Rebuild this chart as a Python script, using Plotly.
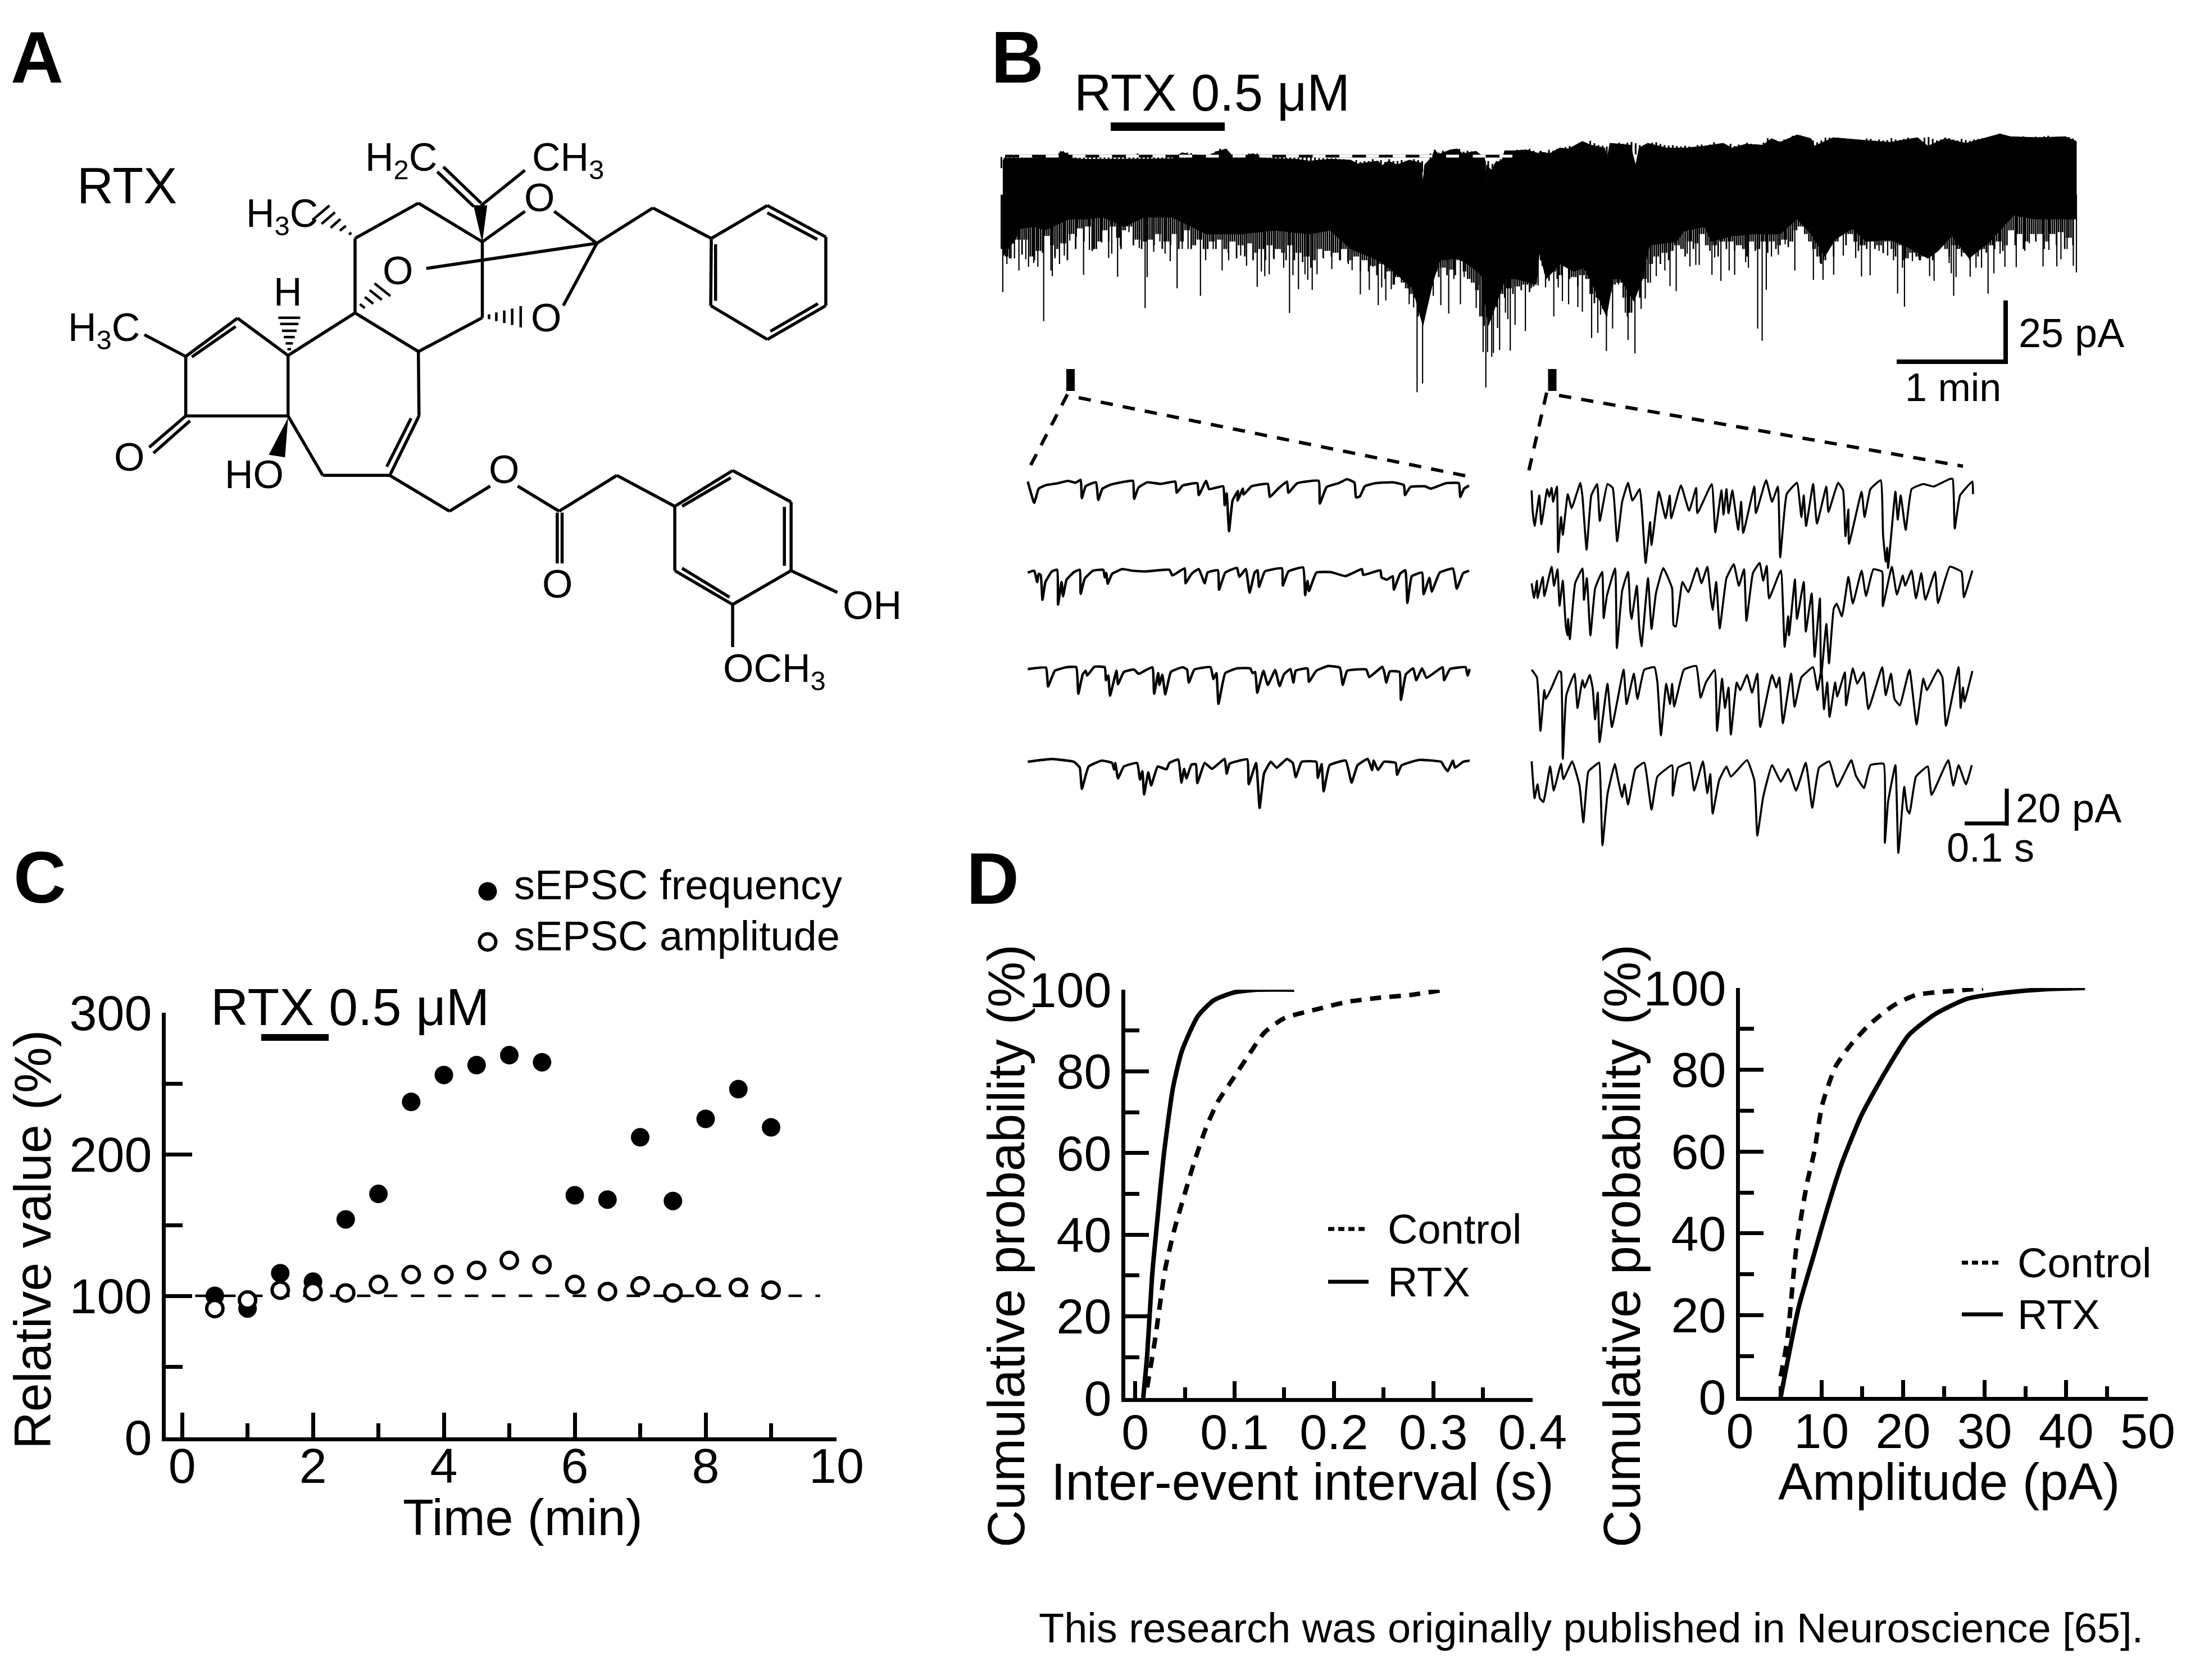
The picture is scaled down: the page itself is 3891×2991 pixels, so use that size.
import plotly.graph_objects as go

W, H = 3891, 2991
FONT = "Liberation Sans"

# ---------- panel C values ----------
time_min = [0.5, 1, 1.5, 2, 2.5, 3, 3.5, 4, 4.5, 5, 5.5, 6, 6.5, 7, 7.5, 8, 8.5, 9]
sepsc_frequency = [100, 91, 116, 110, 154, 172, 237, 256, 263, 270, 265, 171, 168, 212, 167, 225, 246, 219]
sepsc_amplitude = [91, 97, 104, 103, 102, 108, 115, 115, 118, 125, 122, 108, 103, 107, 102, 106, 106, 104]
baseline_x = [0.2, 9.75]
baseline_y = [100, 100]
rtx_bar_x = [1.21, 2.24]
rtx_bar_y = [282.5, 282.5]

# ---------- panel D values ----------
iei_rtx_x = [.008, .012, .017, .022, .029, .038, .047, .063, .079, .099, .123, .160]
iei_rtx_y = [0, 10.5, 30, 43, 60, 76, 85, 93.5, 97.4, 99.3, 100, 100]
iei_ctl_x = [.012, .02, .03, .04, .051, .059, .071, .083, .099, .115, .13, .15, .186, .213, .245, .277, .312]
iei_ctl_y = [2.6, 14.4, 31.4, 41.8, 51, 57.5, 66, 72.5, 78.4, 84.3, 89.5, 93, 95.4, 97, 98, 98.7, 100]
amp_rtx_x = [5.0, 7.2, 9.1, 10.8, 12.5, 14.9, 17.8, 20.7, 24, 27.9, 32.7, 37.5, 42.3]
amp_rtx_y = [0, 21.9, 35, 46.7, 57.2, 68.9, 79.4, 88.5, 93.7, 97.4, 98.9, 99.7, 100]
amp_ctl_x = [5, 5.8, 6.9, 8.2, 9.1, 10.1, 11.7, 13.5, 15.9, 18.8, 21.6, 25.5, 29.8]
amp_ctl_y = [5, 14, 36.3, 52, 59.8, 71.5, 80.7, 85.9, 91.1, 95.7, 98.3, 99.2, 99.9]

# ---------- panel B, long recording (read in two picture strips) ----------
top_a = [(8,170),(12,155),(60,155),(170,150),(175,118),(195,130),(210,155),(240,160),(300,160),(500,158),(530,125),(550,135),(600,150),(630,120),(658,105),(672,135),(700,155),(735,130),(770,155),(860,160),(900,170),(960,160),(1020,165),(1040,185),(1100,170),(1110,195),(1130,170),(1155,190),(1190,165),(1225,180),(1230,285),(1235,190),(1255,150),(1265,110),(1275,135),(1310,110),(1330,105),(1345,130),(1385,118),(1400,140),(1412,170),(1413,295),(1415,190),(1430,220),(1440,180),(1460,165),(1468,115),(1500,115),(1530,110),(1568,130)]
top_b = [(0,120),(30,130),(60,100),(85,105),(125,65),(150,85),(190,100),(197,160),(205,75),(265,85),(280,195),(290,100),(315,75),(370,100),(430,100),(480,90),(535,75),(560,100),(600,80),(650,85),(675,50),(700,70),(750,30),(790,50),(800,90),(855,45),(950,60),(1020,70),(1100,45),(1130,90),(1180,50),(1240,75),(1340,25),(1370,40),(1450,45),(1530,40),(1562,65)]
low_a = [(8,680),(40,600),(60,530),(100,520),(130,540),(200,480),(250,480),(300,470),(360,520),(420,470),(500,470),(600,560),(700,560),(800,540),(900,560),(960,540),(1020,640),(1100,700),(1150,770),(1200,850),(1230,1050),(1260,810),(1280,700),(1330,690),(1360,720),(1400,780),(1420,1050),(1440,950),(1470,800),(1500,800),(1560,830)]
low_b = [(0,660),(20,800),(60,720),(100,760),(130,740),(160,850),(195,1000),(215,800),(235,800),(275,920),(300,800),(320,620),(400,600),(420,545),(480,520),(500,600),(560,570),(620,560),(700,560),(750,480),(790,560),(830,680),(860,590),(910,530),(950,600),(1020,590),(1060,620),(1130,690),(1160,650),(1200,570),(1250,690),(1310,600),(1380,460),(1440,480),(1562,480)]
spikes_a = [(8,870),(20,720),(32,690),(42,690),(55,755),(75,695),(83,735),(98,715),(110,735),(127,1025),(148,755),(152,785),(160,690),(173,720),(187,675),(203,595),(222,575),(243,778),(260,645),(272,640),(296,605),(316,688),(325,665),(342,788),(350,625),(375,550),(388,620),(405,635),(422,955),(428,790),(447,655),(465,600),(480,665),(495,705),(515,850),(530,640),(547,640),(556,615),(583,890),(598,700),(620,640),(646,755),(665,700),(700,675),(717,730),(748,842),(760,760),(770,785),(783,775),(797,695),(825,740),(842,982),(852,780),(868,855),(887,775),(895,805),(908,858),(922,775),(965,747),(990,700),(1013,720),(1024,753),(1048,882),(1074,858),(1085,735),(1100,940),(1110,845),(1122,915),(1138,855),(1147,830),(1190,935),(1203,952),(1213,1405),(1229,1358),(1245,898),(1260,890),(1282,940),(1305,985),(1320,800),(1339,935),(1350,790),(1385,955),(1395,830),(1405,1190),(1413,1380),(1418,1190),(1430,1215),(1435,1195),(1447,1062),(1453,1180),(1470,980),(1477,1015),(1484,1183),(1498,1045),(1528,1078),(1545,850),(1565,835)]
spikes_b = [(8,730),(18,845),(42,1000),(55,845),(67,918),(85,935),(112,950),(125,975),(152,1115),(170,1088),(178,990),(195,1185),(213,1065),(230,830),(250,980),(258,1125),(278,1198),(296,960),(308,905),(323,820),(340,785),(365,755),(380,838),(398,865),(430,665),(438,733),(455,725),(465,725),(502,778),(510,685),(528,810),(552,755),(568,778),(600,710),(608,740),(635,1065),(648,1130),(660,858),(675,680),(695,670),(715,615),(743,755),(797,805),(817,715),(825,805),(856,777),(884,675),(920,688),(937,787),(962,780),(988,650),(1000,662),(1013,675),(1030,700),(1042,878),(1056,740),(1062,948),(1085,705),(1105,700),(1135,785),(1148,810),(1192,715),(1198,770),(1205,890),(1212,790),(1253,788),(1270,740),(1286,740),(1305,878),(1322,770),(1340,665),(1354,735),(1387,737),(1412,650),(1425,610),(1465,733),(1482,645),(1505,733),(1517,695),(1535,640),(1553,730),(1562,765)]
# fine fringe of the band, read along the strips every 12 strip units
fringe_low_a = [640,680,690,610,590,670,590,680,700,650,660,570,620,680,640,610,700,560,640,530,600,520,650,640,600,540,600,520,580,640,540,520,620,590,640,600,590,620,560,640,600,620,560,640,600,540,640,620,590,640,640,600,640,590,640,660,600,690,620,680,610,700,660,640,700,620,690,640,660,700,620,700,660,710,680,740,700,640,690,650,680,660,700,640,710,700,680,760,700,760,730,780,720,800,760,830,790,820,850,880,900,1000,920,900,860,760,790,740,780,750,780,700,760,800,820,860,1000,1050,1000,980,950,880,900,850,880,840,860,830,870,840]
fringe_low_b = [700,770,810,760,800,780,720,800,790,840,780,800,880,930,900,960,1000,870,830,820,900,1000,980,830,900,800,820,720,680,720,660,700,650,620,640,680,600,640,610,560,620,650,620,680,600,640,600,650,620,640,680,600,650,640,600,660,600,640,620,590,630,600,540,520,560,600,640,680,720,700,620,680,600,560,620,560,600,650,620,640,600,640,620,660,600,640,680,620,700,690,660,680,700,680,650,700,620,600,640,680,620,640,680,660,700,640,680,640,660,620,640,600,650,620,540,620,560,640,600,560,600,560,640,600,560,620,550,640,580,620]
fringe_top_a = [148,150,152,150,152,150,150,150,150,150,150,150,150,150,128,118,125,140,150,152,152,152,150,150,150,150,150,152,152,150,150,145,150,130,150,150,150,150,150,150,150,140,150,150,148,125,128,135,148,150,145,130,118,105,118,150,150,150,150,140,130,135,130,150,150,150,150,150,150,150,150,150,150,150,150,150,150,155,155,155,155,155,160,160,170,175,165,175,170,170,160,170,165,175,160,170,170,165,170,170,160,165,170,180,130,110,125,115,120,110,108,105,120,115,118,125,135,150,170,185,170,160,118,115,120,110,110,112,105,115]
fringe_top_b = [115,125,110,115,105,100,95,90,105,95,70,80,62,75,85,88,92,90,85,72,78,72,68,75,85,85,90,72,70,78,85,88,85,90,92,88,92,95,85,82,90,82,70,88,90,85,78,90,82,88,72,78,80,85,72,48,62,60,65,55,50,35,30,35,45,60,60,70,60,45,45,55,50,48,60,52,55,60,58,50,52,62,55,60,58,48,55,58,52,45,50,58,60,45,42,52,60,55,45,48,55,60,52,58,62,55,52,48,50,60,38,25,42,38,40,45,42,38,45,42,40,42,38,35,45,42,40,38,42,50]

# ---------- panel B, expanded sweeps ----------
sweep_l1 = [(18,65),(40,155),(55,95),(80,80),(120,72),(155,62),(180,70),(198,58),(202,135),(215,85),(250,68),(258,143),(272,95),(300,78),(350,65),(376,62),(380,138),(395,90),(425,68),(470,75),(520,65),(525,112),(545,82),(595,72),(600,122),(625,62),(635,97),(683,85),(688,165),(695,115),(703,275),(715,145),(733,105),(732,145),(750,95),(752,120),(780,85),(835,75),(842,130),(870,95),(900,65),(905,112),(935,72),(1008,62),(1012,158),(1035,88),(1075,72),(1105,55),(1130,70),(1135,132),(1148,128),(1165,85),(1200,72),(1260,68),(1298,80),(1302,122),(1320,88),(1370,85),(1390,95),(1440,72),(1485,72),(1490,130),(1503,95),(1520,82)]
sweep_l2 = [(18,450),(40,442),(50,490),(55,455),(62,460),(68,565),(78,490),(100,445),(118,438),(121,585),(133,490),(138,550),(150,480),(175,448),(195,438),(198,540),(212,475),(240,442),(275,438),(280,470),(285,452),(290,497),(305,455),(340,435),(375,442),(420,445),(500,438),(510,462),(552,432),(555,495),(570,465),(580,450),(600,435),(620,495),(630,450),(665,440),(669,523),(690,450),(730,430),(738,468),(760,435),(773,535),(790,450),(800,440),(805,510),(825,445),(883,432),(886,505),(905,445),(955,428),(962,545),(970,485),(975,528),(1000,450),(1050,448),(1100,465),(1155,435),(1160,460),(1218,440),(1222,470),(1240,480),(1260,465),(1264,522),(1285,455),(1303,440),(1310,578),(1325,465),(1360,450),(1365,542),(1385,472),(1393,530),(1420,450),(1465,433),(1478,518),(1500,452),(1520,442)]
sweep_l3 = [(18,858),(80,852),(87,932),(110,865),(150,850),(183,850),(190,962),(205,880),(215,865),(220,885),(245,848),(280,850),(284,905),(292,885),(298,970),(320,865),(325,922),(345,870),(380,860),(395,878),(442,850),(448,962),(462,875),(466,925),(476,882),(486,965),(505,870),(545,850),(560,860),(566,915),(585,860),(640,850),(650,900),(660,875),(667,1005),(690,875),(730,855),(775,855),(783,875),(792,870),(799,958),(820,865),(835,925),(860,862),(875,930),(890,880),(912,858),(922,915),(930,865),(970,855),(975,912),(1000,865),(1040,845),(1080,852),(1090,925),(1105,865),(1170,860),(1180,892),(1225,848),(1232,875),(1238,915),(1250,868),(1283,870),(1288,988),(1305,880),(1330,855),(1340,905),(1360,855),(1375,895),(1430,850),(1435,905),(1455,858),(1508,850),(1515,885),(1522,858)]
sweep_l4 = [(18,1250),(60,1243),(100,1238),(175,1250),(195,1275),(202,1365),(225,1270),(270,1245),(305,1255),(312,1283),(316,1255),(325,1320),(345,1270),(390,1255),(400,1325),(408,1290),(414,1388),(428,1295),(438,1350),(460,1270),(490,1282),(500,1255),(530,1240),(541,1338),(550,1280),(558,1320),(575,1262),(590,1260),(595,1340),(620,1255),(645,1280),(688,1238),(695,1300),(705,1258),(765,1240),(770,1345),(795,1255),(807,1445),(822,1300),(845,1250),(865,1275),(900,1238),(920,1255),(930,1315),(950,1250),(1000,1250),(1005,1318),(1018,1260),(1025,1375),(1045,1265),(1100,1245),(1120,1338),(1140,1265),(1175,1238),(1190,1285),(1195,1245),(1210,1285),(1230,1250),(1270,1255),(1275,1305),(1290,1265),(1350,1242),(1425,1250),(1435,1270),(1447,1290),(1465,1245),(1472,1275),(1500,1250),(1522,1245)]
sweep_r1 = [(12,95),(15,170),(22,235),(38,115),(45,228),(65,90),(72,120),(80,85),(85,140),(98,80),(102,338),(112,200),(118,270),(135,110),(148,165),(178,65),(185,120),(199,328),(215,115),(235,70),(244,215),(270,70),(288,85),(303,295),(320,140),(340,65),(355,135),(380,90),(388,180),(400,380),(415,220),(420,310),(445,100),(468,205),(482,115),(487,205),(520,75),(548,175),(572,85),(576,185),(625,70),(637,260),(658,95),(665,190),(675,90),(682,185),(695,95),(715,250),(725,140),(732,262),(770,80),(775,185),(810,55),(830,140),(850,80),(858,358),(880,110),(915,65),(930,200),(938,115),(946,235),(970,70),(983,225),(1015,80),(1022,180),(1055,65),(1072,95),(1080,275),(1090,170),(1092,305),(1135,100),(1145,200),(1165,90),(1200,55),(1208,270),(1217,375),(1222,320),(1225,400),(1250,100),(1258,210),(1268,115),(1285,250),(1305,90),(1345,70),(1380,80),(1435,50),(1445,50),(1452,245),(1470,115),(1512,60),(1514,110)]
sweep_r2 = [(12,460),(20,518),(30,450),(32,518),(50,435),(55,510),(80,395),(88,470),(100,405),(107,548),(118,450),(128,625),(134,665),(136,600),(142,680),(160,460),(185,402),(190,525),(200,440),(212,665),(228,480),(252,415),(257,597),(268,510),(296,402),(302,715),(320,490),(340,415),(348,570),(352,600),(370,470),(378,630),(386,708),(408,440),(420,640),(435,500),(460,400),(490,480),(495,625),(503,630),(525,455),(545,495),(575,400),(590,460),(610,395),(622,520),(628,565),(640,455),(652,638),(675,440),(700,385),(717,470),(735,405),(743,608),(765,420),(788,380),(800,450),(812,392),(820,520),(860,410),(873,710),(885,590),(888,665),(908,445),(915,600),(938,455),(945,650),(965,500),(975,750),(993,520),(997,830),(1015,620),(1024,775),(1040,560),(1050,540),(1068,590),(1090,435),(1105,540),(1135,410),(1150,510),(1175,405),(1205,415),(1207,550),(1238,395),(1255,505),(1275,430),(1283,470),(1305,410),(1320,520),(1338,420),(1352,525),(1385,415),(1395,538),(1435,395),(1475,415),(1483,515),(1512,410)]
sweep_r3 = [(12,800),(30,830),(42,1040),(55,880),(60,915),(80,870),(105,805),(112,810),(118,1150),(130,900),(158,815),(168,950),(185,840),(192,870),(210,820),(220,875),(228,995),(237,890),(243,1085),(270,855),(285,1025),(325,800),(335,935),(360,815),(372,915),(395,800),(430,790),(440,850),(452,1058),(470,855),(483,935),(490,855),(497,945),(530,800),(572,785),(587,910),(605,850),(635,800),(643,1040),(660,835),(670,950),(682,870),(690,1055),(710,850),(722,880),(745,820),(762,890),(780,815),(790,1025),(830,820),(845,870),(855,830),(867,1010),(895,815),(907,945),(930,830),(970,790),(985,880),(998,800),(1007,955),(1018,850),(1026,985),(1045,850),(1052,905),(1078,810),(1082,940),(1105,795),(1120,855),(1142,810),(1158,955),(1205,790),(1217,900),(1235,815),(1247,915),(1265,940),(1298,800),(1322,1015),(1345,835),(1357,880),(1395,800),(1410,830),(1422,1020),(1465,790),(1472,950),(1480,870),(1485,925),(1512,805)]
sweep_r4 = [(12,1160),(22,1305),(32,1250),(40,1305),(52,1320),(75,1180),(87,1275),(112,1170),(120,1230),(150,1160),(175,1255),(188,1400),(205,1200),(235,1170),(242,1165),(253,1490),(270,1290),(295,1170),(305,1225),(320,1300),(328,1250),(340,1330),(365,1190),(395,1165),(420,1350),(440,1220),(490,1175),(492,1295),(510,1185),(550,1165),(565,1275),(595,1160),(610,1285),(620,1210),(628,1365),(650,1235),(675,1180),(690,1220),(745,1155),(770,1235),(780,1452),(800,1300),(830,1175),(860,1240),(885,1190),(912,1275),(945,1165),(967,1342),(990,1185),(1025,1160),(1052,1260),(1100,1155),(1115,1215),(1143,1265),(1165,1175),(1210,1170),(1214,1480),(1225,1320),(1250,1175),(1260,1520),(1280,1260),(1290,1350),(1298,1365),(1320,1220),(1360,1180),(1373,1292),(1430,1155),(1447,1255),(1465,1175),(1490,1250),(1510,1175)]

# ---------- panel A, structure ----------
bonds = [(305,737,390,658),(315,738,387,675),(390,658,473,735),(473,735,473,860),(473,860,305,860),(305,860,305,737),(305,737,237,692),
         (305,860,245,925),(312,870,252,937),(473,735,583,647),(583,647,687,727),(687,727,688,860),(688,860,640,983),(675,865,635,965),
         (640,983,530,983),(530,983,473,860),(583,647,583,493),(583,493,687,420),(687,420,792,500),(792,500,792,657),(792,657,687,727),
         (790,425,862,352),(778,427,718,355),(790,420,728,345),(792,500,862,437),(910,437,980,503),(980,503,700,555),(980,503,925,632),
         (980,503,1072,430),(1072,430,1168,493),(1168,493,1260,425),(1260,425,1356,490),(1356,490,1356,632),(1356,632,1260,702),
         (1260,702,1167,632),(1167,632,1168,493),(1260,440,1342,495),(1175,505,1175,622),(1343,628,1265,685),
         (640,983,738,1057),(738,1057,805,1005),(850,1005,918,1057),(918,1057,1013,983),(1013,983,1108,1047),(915,1060,915,1165),(923,1060,923,1165),
         (1108,1047,1203,973),(1203,973,1299,1038),(1299,1038,1299,1180),(1299,1180,1203,1250),(1203,1250,1108,1180),(1108,1180,1108,1047),
         (1120,1047,1200,988),(1288,1048,1288,1170),(1120,1175,1198,1235),(1299,1180,1375,1225),(1203,1250,1203,1338)]
hashes = [(457,657,493,657),(460,670,490,670),(463,684,487,684),(466,697,484,697),(469,710,481,710),(472,722,478,722),
          (573,485,577,481),(558,477,568,467),(543,471,559,453),(528,463,550,439),(513,455,541,425),
          (591,629,599,637),(599,614,613,628),(607,600,627,620),(615,586,641,612),
          (803,650,803,660),(815,646,815,664),(828,642,828,668),(841,638,841,672),(855,633,855,677)]
wedges = [[(473,865),(442,940),(468,945)], [(792,500),(778,425),(800,425)]]

# ---------- picture-strip to page conversions ----------
def strip(x0, y0, fx, fy):
    return lambda p: (x0 + p[0] * fx, y0 + p[1] * fy)

A_MAP = strip(0, 0, 1.084, 0.861)
BA_MAP = strip(1780, 230, 0.612, 1 / 3)
BB_MAP = strip(2740, 230, 0.612, 1 / 3)
L_MAP = strip(1820, 830, 0.523, 0.421)
R_MAP = strip(2720, 830, 0.523, 0.453)

fig = go.Figure()
AX = dict(xaxis="x4", yaxis="y4", showlegend=False, hoverinfo="skip")

def line(xs, ys, w=4.5, dash="solid", color="black", shape="linear", smoothing=None, **kw):
    ln = dict(color=color, width=w, dash=dash, shape=shape)
    if smoothing is not None:
        ln["smoothing"] = smoothing
    fig.add_trace(go.Scatter(x=xs, y=ys, mode="lines", line=ln, **AX, **kw))

def segments(items, mapping, w):
    xs, ys = [], []
    for a, b, c, d in items:
        p, q = mapping((a, b)), mapping((c, d))
        xs += [p[0], q[0], None]
        ys += [p[1], q[1], None]
    line(xs, ys, w)

# C
cax = dict(xaxis="x", yaxis="y", showlegend=False)
fig.add_trace(go.Scatter(x=baseline_x, y=baseline_y, mode="lines", line=dict(color="black", width=4.5, dash="24px,24px"), **cax))
fig.add_trace(go.Scatter(x=rtx_bar_x, y=rtx_bar_y, mode="lines", line=dict(color="black", width=12), **cax))
fig.add_trace(go.Scatter(x=time_min, y=sepsc_frequency, mode="markers", name="sEPSC frequency",
                         marker=dict(color="black", size=33), **cax))
fig.add_trace(go.Scatter(x=time_min, y=sepsc_amplitude, mode="markers", name="sEPSC amplitude",
                         marker=dict(color="white", size=29, line=dict(color="black", width=6)), **cax))

# D
for n, cx, cy, rx, ry in [("2", iei_ctl_x, iei_ctl_y, iei_rtx_x, iei_rtx_y), ("3", amp_ctl_x, amp_ctl_y, amp_rtx_x, amp_rtx_y)]:
    dax = dict(xaxis="x" + n, yaxis="y" + n, showlegend=False)
    fig.add_trace(go.Scatter(x=cx, y=cy, mode="lines", name="Control",
                             line=dict(color="black", width=8, dash="20px,15px", shape="spline", smoothing=0.6), **dax))
    fig.add_trace(go.Scatter(x=rx, y=ry, mode="lines", name="RTX",
                             line=dict(color="black", width=8, shape="spline", smoothing=0.6), **dax))

# A
segments(bonds, A_MAP, 5.5)
segments(hashes, A_MAP, 4.5)
for w in wedges:
    pts = [A_MAP(p) for p in w]
    fig.add_trace(go.Scatter(x=[p[0] for p in pts], y=[p[1] for p in pts], mode="lines", fill="toself",
                             fillcolor="black", line=dict(color="black", width=1), **AX))

# B band
pts = [BA_MAP(p) for p in top_a] + [BB_MAP(p) for p in top_b] + [BB_MAP(p) for p in reversed(low_b)] + [BA_MAP(p) for p in reversed(low_a)]
fig.add_trace(go.Scatter(x=[p[0] for p in pts], y=[p[1] for p in pts], mode="lines", fill="toself",
                         fillcolor="black", line=dict(color="black", width=1), **AX))
xs, ys = [], []
for lst, m in ((spikes_a, BA_MAP), (spikes_b, BB_MAP)):
    for p in lst:
        a = m((p[0], 350))
        b = m(p)
        xs += [a[0], b[0], None]
        ys += [a[1], b[1], None]
line(xs, ys, 2.2)
xs, ys = [], []
for lst, m in ((fringe_low_a, BA_MAP), (fringe_low_b, BB_MAP)):
    for i, v in enumerate(lst):
        a = m((4 + 12 * i, 350))
        b = m((4 + 12 * i, v))
        xs += [a[0], b[0], None]
        ys += [a[1], b[1], None]
        if i + 1 < len(lst):
            a = m((10 + 12 * i, 350))
            b = m((10 + 12 * i, min(v, lst[i + 1])))
            xs += [a[0], b[0], None]
            ys += [a[1], b[1], None]
line(xs, ys, 2.8)
xs, ys = [], []
for lst, m in ((fringe_top_a, BA_MAP), (fringe_top_b, BB_MAP)):
    for i, v in enumerate(lst):
        a = m((4 + 12 * i, v))
        b = m((4 + 12 * i, v + 60))
        xs += [a[0], b[0], None]
        ys += [a[1], b[1], None]
line(xs, ys, 3)
line([1789, 2716], [278, 278], 5)
line([1814, 2716], [278, 278], 5, dash="23px,24.5px", color="white")
line([1977, 2180], [225.5, 225.5], 15)
line([1905.5, 1905.5], [657, 696], 15)
line([2763, 2763], [657, 696], 15)
line([1900, 1829], [702, 839], 6, dash="22px,18px")
line([1920, 2613], [708, 848], 6, dash="22px,18px")
line([2753, 2719], [699, 848], 6, dash="22px,18px")
line([2775, 3494], [704, 830], 6, dash="22px,18px")
line([3570, 3570], [535, 648], 8)
line([3376, 3574], [644, 644], 8)
line([3572, 3572], [1404, 1470], 7)
line([3497, 3575], [1466, 1466], 7)
for sw in (sweep_l1, sweep_l2, sweep_l3, sweep_l4):
    pts = [L_MAP(p) for p in sw]
    line([p[0] for p in pts], [p[1] for p in pts], 4.4, shape="spline", smoothing=0.35)
for sw in (sweep_r1, sweep_r2, sweep_r3, sweep_r4):
    pts = [R_MAP(p) for p in sw]
    line([p[0] for p in pts], [p[1] for p in pts], 3.6, shape="spline", smoothing=0.35)

# legend keys drawn at their places in the picture
fig.add_trace(go.Scatter(x=[868], y=[1587], mode="markers", marker=dict(color="black", size=33), **AX))
fig.add_trace(go.Scatter(x=[868], y=[1677], mode="markers", marker=dict(color="white", size=29, line=dict(color="black", width=6)), **AX))
for x0, x1, x2, y1, y2 in [(2364, 2429, 2436, 2188, 2282), (3492, 3558, 3565, 2248, 2340)]:
    line([x0, x1], [y1, y1], 7, dash="11px,7px")
    line([x0, x2], [y2, y2], 7)

# text
ann = []
def T(text, x, y, size, anchor="left", angle=0, bold=False):
    ann.append(dict(text=("<b>%s</b>" % text) if bold else text, x=x, y=y, xref="x4", yref="y4", xanchor=anchor, yanchor="middle",
                    showarrow=False, textangle=angle, font=dict(family=FONT, size=size, color="black")))

T("A", 17, 102, 130, bold=True)
T("B", 1762, 102, 130, bold=True)
T("C", 22, 1562, 130, bold=True)
T("D", 1718, 1564, 130, bold=True)
# A labels
SZ = 70
for txt, x, y, anc in [("H<sub>2</sub>C", 648, 285, "left"), ("CH<sub>3</sub>", 945, 285, "left"), ("H<sub>3</sub>C", 436, 385, "left"),
                       ("H<sub>3</sub>C", 119, 588, "left"), ("O", 230, 814, "center"), ("HO", 398, 845, "left"),
                       ("H", 512, 520, "center"), ("O", 708, 482, "center"), ("O", 960, 352, "center"), ("O", 972, 566, "center"),
                       ("O", 897, 836, "center"), ("O", 992, 1040, "center"), ("OH", 1498, 1078, "left"), ("OCH<sub>3</sub>", 1285, 1195, "left")]:
    T(txt, x, y, SZ, anc)
T("RTX", 135, 331, 90)
# B labels
T("RTX 0.5 μM", 1910, 165, 92)
T("25 pA", 3591, 593, 72)
T("1 min", 3389, 690, 70)
T("20 pA", 3586, 1439, 72)
T("0.1 s", 3463, 1509, 72)
# C labels
T("sEPSC frequency", 913, 1575, 74)
T("sEPSC amplitude", 913, 1666, 74)
T("RTX 0.5 μM", 373, 1793, 93)
T("Relative value (%)", 58, 2207, 92, "center", -90)
T("Time (min)", 930, 2702, 90, "center")
# D labels
T("Cumulative probability (%)", 1791, 2218, 92, "center", -90)
T("Cumulative probability (%)", 2887, 2218, 92, "center", -90)
T("Inter-event interval (s)", 2318, 2638, 92, "center")
T("Amplitude (pA)", 3469, 2638, 92, "center")
T("Control", 2468, 2188, 74)
T("RTX", 2468, 2282, 74)
T("Control", 3589, 2248, 74)
T("RTX", 3589, 2340, 74)
T("This research was originally published in Neuroscience [65].", 1847, 2898, 74)

def axis(dom, rng, dtick, minor, major_len, minor_len, anchor, lw=7, standoff=0):
    return dict(domain=dom, range=rng, dtick=dtick, tick0=0, anchor=anchor, automargin=False, showgrid=False, zeroline=False, showline=True,
                linecolor="black", linewidth=lw, ticks="inside", ticklen=major_len, tickwidth=lw, tickcolor="black",
                ticklabelstandoff=standoff,
                tickfont=dict(family=FONT, size=88, color="black"),
                minor=dict(dtick=minor, tick0=0, ticks="inside", ticklen=minor_len, tickwidth=lw, tickcolor="black", showgrid=False))

def xd(a, b):
    return [a / W, b / W]

def yd(top, bottom):
    return [(H - bottom) / H, (H - top) / H]

fig.update_layout(
    template="none",
    width=W, height=H, margin=dict(l=0, r=0, t=0, b=0, autoexpand=False), paper_bgcolor="white", plot_bgcolor="rgba(0,0,0,0)",
    showlegend=False, font=dict(family=FONT, color="black"), annotations=ann,
    xaxis=axis(xd(295, 1489), [-0.25, 10], 2, 1, 44, 25, "y", standoff=-32),
    yaxis=axis(yd(1803, 2559), [0, 300], 100, 50, 47, 30, "x"),
    xaxis2=axis(xd(2003, 2728), [-0.01, 0.4], 0.1, 0.05, 30, 19, "y2", standoff=-22),
    yaxis2=axis(yd(1762, 2489), [0, 100], 20, 10, 42, 25, "x2"),
    xaxis3=axis(xd(3097, 3823), [0, 50], 10, 5, 30, 19, "y3", standoff=-22),
    yaxis3=axis(yd(1759, 2487), [0, 100], 20, 10, 42, 25, "x3"),
    xaxis4=dict(domain=[0, 1], range=[0, W], visible=False, anchor="y4", fixedrange=True, automargin=False),
    yaxis4=dict(domain=[0, 1], range=[H, 0], visible=False, anchor="x4", fixedrange=True, automargin=False),
)
fig.write_html("out.html", config=dict(displayModeBar=False), post_script="document.body.style.margin='0';")
